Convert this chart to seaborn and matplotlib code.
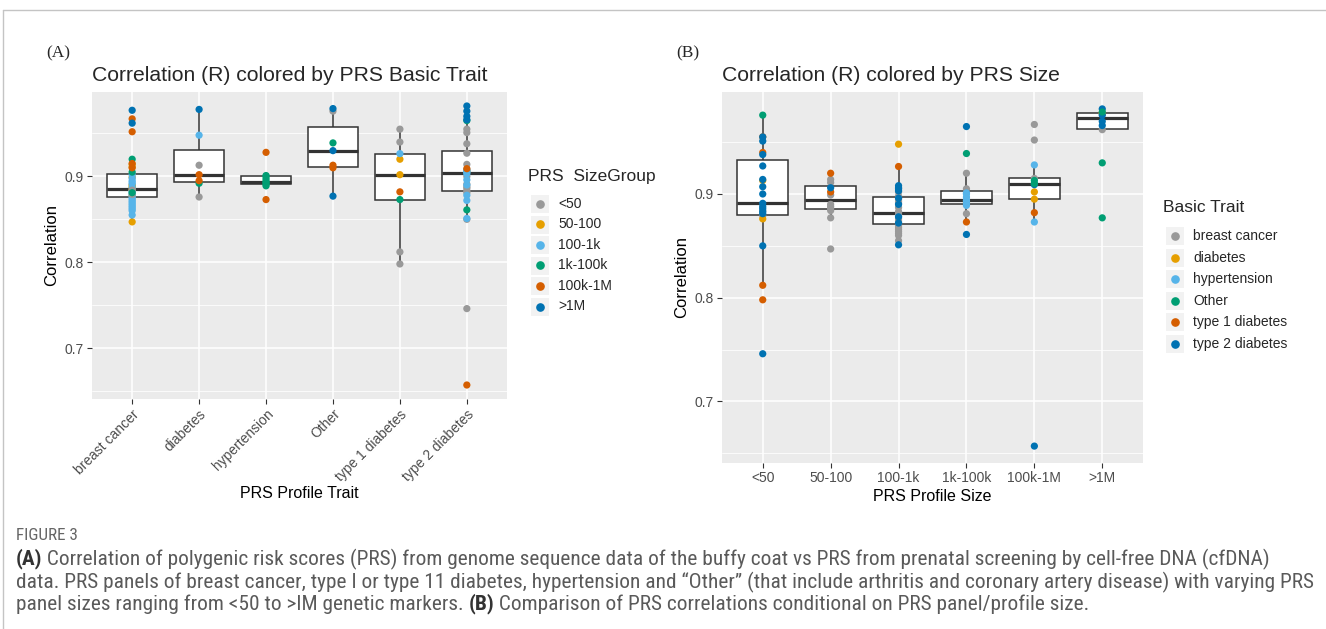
import matplotlib
matplotlib.use("Agg")
import matplotlib.pyplot as plt
from matplotlib import font_manager
from matplotlib.lines import Line2D
from matplotlib.patches import Rectangle
import pandas as pd
import seaborn as sns

W, H = 1326, 629

# ---------------- data ----------------
TRAITS = ["breast cancer", "diabetes", "hypertension", "Other",
          "type 1 diabetes", "type 2 diabetes"]
SIZES = ["<50", "50-100", "100-1k", "1k-100k", "100k-1M", ">1M"]
PALETTE = ["#999999", "#E69F00", "#56B4E9", "#009E73", "#D55E00", "#0072B2"]

breast_cancer_size = (["50-100"] * 9 + ["100-1k"] * 20 + ["<50"] * 2 +
                      ["1k-100k"] * 3 + ["100k-1M"] * 4 + [">1M"] * 2)
breast_cancer_r = [0.914, 0.911, 0.899, 0.890, 0.888, 0.886, 0.884, 0.877, 0.847,
                   0.902, 0.898, 0.895, 0.893, 0.891, 0.887, 0.883, 0.882, 0.880, 0.878,
                   0.876, 0.874, 0.872, 0.870, 0.868, 0.866, 0.864, 0.862, 0.860, 0.855,
                   0.884, 0.879,
                   0.920, 0.905, 0.881,
                   0.967, 0.952, 0.915, 0.910,
                   0.977, 0.962]

diabetes_size = ["<50", "<50", "100-1k", "1k-100k", "100k-1M", "100k-1M", ">1M"]
diabetes_r = [0.913, 0.876, 0.948, 0.892, 0.895, 0.902, 0.978]

hypertension_size = ["1k-100k"] * 7 + ["100k-1M"] * 2
hypertension_r = [0.901, 0.900, 0.897, 0.894, 0.893, 0.891, 0.889, 0.928, 0.873]

other_size = ["<50", "1k-100k", "100k-1M", "100k-1M", ">1M", ">1M", ">1M"]
other_r = [0.976, 0.939, 0.913, 0.910, 0.979, 0.930, 0.877]

t1d_size = ["<50"] * 4 + ["50-100"] * 2 + ["100-1k", "1k-100k", "100k-1M"]
t1d_r = [0.955, 0.940, 0.812, 0.798, 0.920, 0.902, 0.9265, 0.873, 0.882]

t2d_size = (["<50"] * 14 + ["50-100"] + ["100-1k"] * 9 + ["1k-100k"] * 2 +
            ["100k-1M"] * 2 + [">1M"] * 4)
t2d_r = [0.955, 0.951, 0.938, 0.927, 0.914, 0.907, 0.900, 0.891, 0.888, 0.886,
         0.883, 0.881, 0.850, 0.746,
         0.906,
         0.908, 0.906, 0.905, 0.903, 0.896, 0.890, 0.878, 0.872, 0.851,
         0.965, 0.861,
         0.909, 0.657,
         0.982, 0.976, 0.970, 0.966]

rows = []
# row order = drawing order of the points
for trait, sizes, rs in [("breast cancer", breast_cancer_size, breast_cancer_r),
                         ("diabetes", diabetes_size, diabetes_r),
                         ("hypertension", hypertension_size, hypertension_r),
                         ("type 1 diabetes", t1d_size, t1d_r),
                         ("type 2 diabetes", t2d_size, t2d_r),
                         ("Other", other_size, other_r)]:
    for s, r in zip(sizes, rs):
        rows.append({"trait": trait, "size": s, "r": r})
df = pd.DataFrame(rows)

# ---------------- style ----------------
sns.set_theme(style="darkgrid", rc={"axes.facecolor": "#EBEBEB",
                                    "grid.color": "white",
                                    "figure.facecolor": "white"})
avail = {f.name for f in font_manager.fontManager.ttflist}
plt.rcParams["font.family"] = ["Liberation Sans", "DejaVu Sans"]

fig = plt.figure(figsize=(W / 100, H / 100), dpi=100)


def add_axes(l, t, r, b):
    return fig.add_axes([l / W, 1 - b / H, (r - l) / W, (b - t) / H])


axA = add_axes(92, 92, 507, 399)
axB = add_axes(722, 92, 1143, 463)


def draw_panel(ax, xcol, order, huecol, hue_levels):
    sns.boxplot(data=df, x=xcol, y="r", order=order, color="white", saturation=1,
                linecolor="#333333", linewidth=1.1, width=0.75, showfliers=False,
                whis=1.5, medianprops={"linewidth": 2.3, "color": "#333333"},
                capprops={"linewidth": 0}, ax=ax)
    sns.stripplot(data=df, x=xcol, y="r", order=order, hue=huecol,
                  hue_order=hue_levels, palette=dict(zip(hue_levels, PALETTE)),
                  jitter=False, dodge=False, size=5.2, linewidth=0, legend=False,
                  ax=ax, zorder=4)
    ax.set_xlim(-0.6, 5.6)
    ax.set_ylim(0.6407, 0.9983)
    ax.set_yticks([0.7, 0.8, 0.9])
    ax.set_yticklabels(["0.7", "0.8", "0.9"])
    ax.set_yticks([0.65, 0.75, 0.85, 0.95], minor=True)
    ax.grid(False)
    ax.grid(which="major", axis="both", color="white", linewidth=1.1)
    ax.grid(which="minor", axis="y", color="white", linewidth=0.55)
    ax.set_axisbelow(True)
    ax.tick_params(which="major", bottom=True, left=True, length=3.8, width=0.8,
                   color="#333333", labelcolor="#4D4D4D", labelsize=10, pad=2)
    ax.tick_params(which="minor", length=0, left=False, bottom=False)
    for s in ax.spines.values():
        s.set_visible(False)
    ax.set_ylabel("Correlation", fontsize=12, color="black", labelpad=4)


draw_panel(axA, "trait", TRAITS, "size", SIZES)
draw_panel(axB, "size", SIZES, "trait", TRAITS)

for lab in axA.get_xticklabels():
    lab.set_rotation(45)
    lab.set_ha("right")
    lab.set_va("top")
    lab.set_rotation_mode("anchor")
axA.set_xlabel("PRS Profile Trait", fontsize=11.5, color="black", labelpad=2)
axB.set_xlabel("PRS Profile Size", fontsize=11.5, color="black", labelpad=3)

axA.set_title("Correlation (R) colored by PRS Basic Trait", loc="left",
              fontsize=15.2, pad=8)
axB.set_title("Correlation (R) colored by PRS Size", loc="left",
              fontsize=15.2, pad=8)

fig.text(46 / W, 1 - 53 / H, "(A)", family=["Liberation Serif", "DejaVu Serif"],
         fontsize=12.5, va="center", ha="left")
fig.text(676 / W, 1 - 53 / H, "(B)", family=["Liberation Serif", "DejaVu Serif"],
         fontsize=12.5, va="center", ha="left")


def draw_legend(title, labels, x_left, y_title, y_first, dy):
    fig.text(x_left / W, 1 - y_title / H, title, fontsize=12.5, va="center", ha="left")
    xk = x_left + 12
    for i, (lab, c) in enumerate(zip(labels, PALETTE)):
        y = y_first + i * dy
        fig.add_artist(Rectangle(((xk - 9) / W, 1 - (y + 9) / H), 18 / W, 18 / H,
                                 transform=fig.transFigure, facecolor="#F2F2F2",
                                 edgecolor="none"))
        fig.add_artist(Line2D([xk / W], [1 - y / H], transform=fig.transFigure,
                              marker="o", markersize=5.2, color=c, linestyle="none"))
        fig.text((x_left + 30) / W, 1 - y / H, lab, fontsize=10, va="center", ha="left")


draw_legend("PRS  SizeGroup", SIZES, 528, 177, 204, 20.5)
draw_legend("Basic Trait", TRAITS, 1163, 208, 236, 21.6)

# frame lines of the figure panel
fig.add_artist(Line2D([3 / W, 1], [1 - 10 / H, 1 - 10 / H], transform=fig.transFigure,
                      color="#C4C4C4", linewidth=1))
fig.add_artist(Line2D([3 / W, 3 / W], [0, 1 - 10 / H], transform=fig.transFigure,
                      color="#C4C4C4", linewidth=1))

# ---------------- caption ----------------
cap_fam = None
for cand in ["Liberation Sans Narrow", "Roboto Condensed", "Open Sans Condensed",
             "Roboto", "Liberation Sans"]:
    if cand in avail:
        cap_fam = cand
        break
cap_color = "#5A5A5A"
renderer = fig.canvas.get_renderer()

line1 = [("(A)", "bold"), (" Correlation of polygenic risk scores (PRS) from genome sequence "
                          "data of the buffy coat vs PRS from prenatal screening by cell-free "
                          "DNA (cfDNA)", "normal")]
line2 = [("data. PRS panels of breast cancer, type I or type 11 diabetes, hypertension and "
          "\u201cOther\u201d (that include arthritis and coronary artery disease) with varying "
          "PRS", "normal")]
line3 = [("panel sizes ranging from <50 to >IM genetic markers. ", "normal"), ("(B)", "bold"),
         (" Comparison of PRS correlations conditional on PRS panel/profile size.", "normal")]

probe = fig.text(0, 0, line2[0][0], family=cap_fam, fontsize=10)
wpx = probe.get_window_extent(renderer).width
probe.remove()
cap_size = 10 * (1292 / wpx)


def draw_line(segs, y):
    x = 16
    for txt, wt in segs:
        t = fig.text(x / W, 1 - y / H, txt, family=cap_fam, fontsize=cap_size,
                     weight=wt, color=cap_color if wt == "normal" else "#333333",
                     va="center", ha="left")
        x += t.get_window_extent(renderer).width


fig.text(16 / W, 1 - 535 / H, "FIGURE 3", family=cap_fam, fontsize=cap_size * 0.8,
         color="#666666", va="center", ha="left")
draw_line(line1, 559)
draw_line(line2, 582)
draw_line(line3, 604)

fig.savefig("out.png", dpi=100)
